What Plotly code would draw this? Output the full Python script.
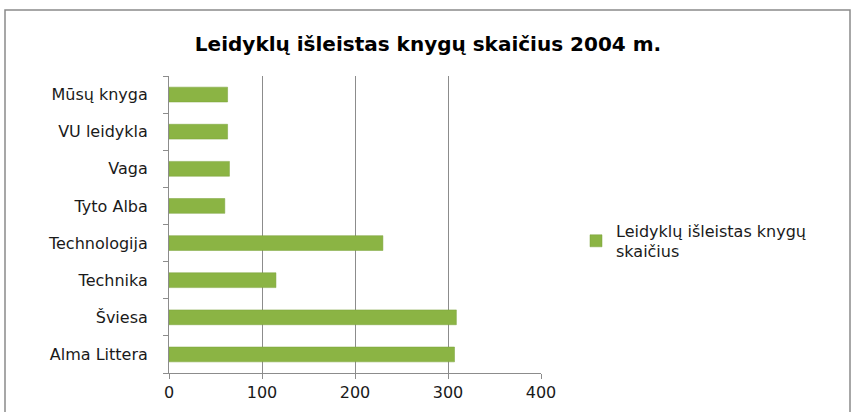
import plotly.graph_objects as go

categories = ["Alma Littera", "Šviesa", "Technika", "Technologija",
              "Tyto Alba", "Vaga", "VU leidykla", "Mūsų knyga"]
values = [307, 309, 115, 230, 60, 65, 63, 63]
series_name = "Leidyklų išleistas knygų<br>skaičius"
title_text = "Leidyklų išleistas knygų skaičius 2004 m."
x_ticks = [0, 100, 200, 300, 400]

FONT = "DejaVu Sans"
TXT = "#1a1a1a"

fig = go.Figure()
fig.add_trace(go.Bar(
    y=categories, x=values, orientation="h", name=series_name,
    marker=dict(color="#8BB444", line=dict(color="#7AA23A", width=0.5)),
    showlegend=True,
))

W, H = 852, 412
L, R, T, B = 169, 311, 76, 39
pw, ph = W - L - R, H - T - B

def px_x(p):
    return (p - L) / pw

def px_y(p):
    return (H - B - p) / ph

fig.update_layout(
    width=W, height=H,
    margin=dict(l=L, r=R, t=T, b=B, autoexpand=False),
    paper_bgcolor="white", plot_bgcolor="white",
    font=dict(family=FONT, color=TXT, size=16),
    title=dict(text=title_text, x=428 / W, xanchor="center", y=1 - 44 / H, yanchor="middle",
               font=dict(family=FONT, size=20, color="#000000", weight="bold")),
    bargap=0.6,
    xaxis=dict(range=[0, 400], tickvals=x_ticks, showgrid=True, gridcolor="#8c8c8c", gridwidth=1,
               zeroline=False, showline=True, linecolor="#8c8c8c", ticks="outside", ticklen=5,
               tickcolor="#8c8c8c", tickfont=dict(size=16, family=FONT, color=TXT)),
    yaxis=dict(type="category", categoryorder="array", categoryarray=categories,
               showline=True, linecolor="#8c8c8c", ticks="outside", ticklen=5, tickcolor="#8c8c8c",
               tickson="boundaries", showgrid=False, ticklabelstandoff=17,
               tickfont=dict(size=16, family=FONT, color=TXT)),
    legend=dict(x=px_x(576), xanchor="left", y=px_y(241), yanchor="middle",
                font=dict(size=16, family=FONT, color=TXT), bgcolor="rgba(0,0,0,0)",
                itemwidth=30),
    shapes=[dict(type="rect", xref="paper", yref="paper",
                 x0=px_x(5), x1=px_x(850), y0=px_y(430), y1=px_y(10),
                 line=dict(color="#8a8a8a", width=1.5), layer="below")],
)

fig.write_html("out.html", config={"displayModeBar": False},
               post_script="document.body.style.margin='0';document.body.style.overflow='hidden';")
